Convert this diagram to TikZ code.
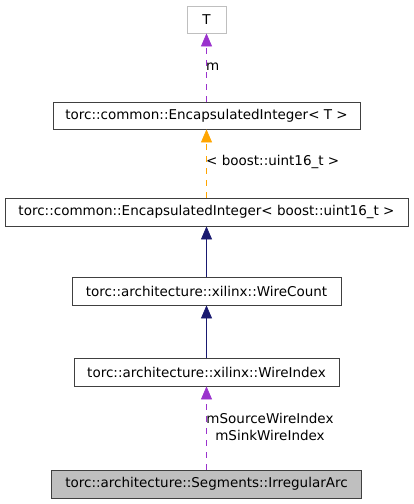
\documentclass[tikz,border=0pt]{standalone}
\usepackage{fontspec}
\setmainfont{DejaVu Sans}
\usetikzlibrary{arrows.meta}
\definecolor{edgepurple}{HTML}{9A32CD}
\definecolor{edgeorange}{HTML}{FFA500}
\definecolor{edgeblue}{HTML}{191970}
\definecolor{boxgray}{HTML}{404040}
\definecolor{fillgray}{HTML}{BFBFBF}
\begin{document}
\begin{tikzpicture}[x=1pt,y=-1pt,
  cls/.style={draw=boxgray,line width=0.8pt,fill=white,inner sep=0pt,font=\fontsize{13.5}{17}\selectfont},
  tip/.style={-{Triangle[length=13pt,width=11pt]}},
  lbl/.style={font=\fontsize{13.5}{17}\selectfont,inner sep=0pt}]
\useasboundingbox (0,0) rectangle (413,504);
\node[cls,draw=fillgray,minimum width=39pt,minimum height=27pt] (t) at (206.5,19.5) {T};
\node[cls,minimum width=307pt,minimum height=27pt] (eit) at (206.5,115.5) {torc::common::EncapsulatedInteger< T >};
\node[cls,minimum width=403pt,minimum height=28pt] (eiu) at (206.5,212) {torc::common::EncapsulatedInteger< boost::uint16\_t >};
\node[cls,minimum width=269pt,minimum height=28pt] (wc) at (206.5,291) {torc::architecture::xilinx::WireCount};
\node[cls,minimum width=265pt,minimum height=28pt] (wi) at (206.5,372) {torc::architecture::xilinx::WireIndex};
\node[cls,fill=fillgray,minimum width=310pt,minimum height=28pt] (ia) at (206.5,484) {torc::architecture::Segments::IrregularArc};
\draw[tip,edgepurple,dash pattern=on 6pt off 6pt,line width=0.8pt] (eit) -- (t);
\draw[tip,edgeorange,dash pattern=on 6pt off 6pt,line width=0.8pt] (eiu) -- (eit);
\draw[tip,edgeblue,line width=0.8pt] (wc) -- (eiu);
\draw[tip,edgeblue,line width=0.8pt] (wi) -- (wc);
\draw[tip,edgepurple,dash pattern=on 6pt off 6pt,line width=0.8pt] (ia) -- (wi);
\node[lbl,anchor=west] (lm) at (206,67) {m};
\node[lbl,anchor=west] (lb) at (206,162) {< boost::uint16\_t >};
\node[lbl,align=center] (ls) at (270,426.5) {mSourceWireIndex\\mSinkWireIndex};
\end{tikzpicture}
\end{document}
